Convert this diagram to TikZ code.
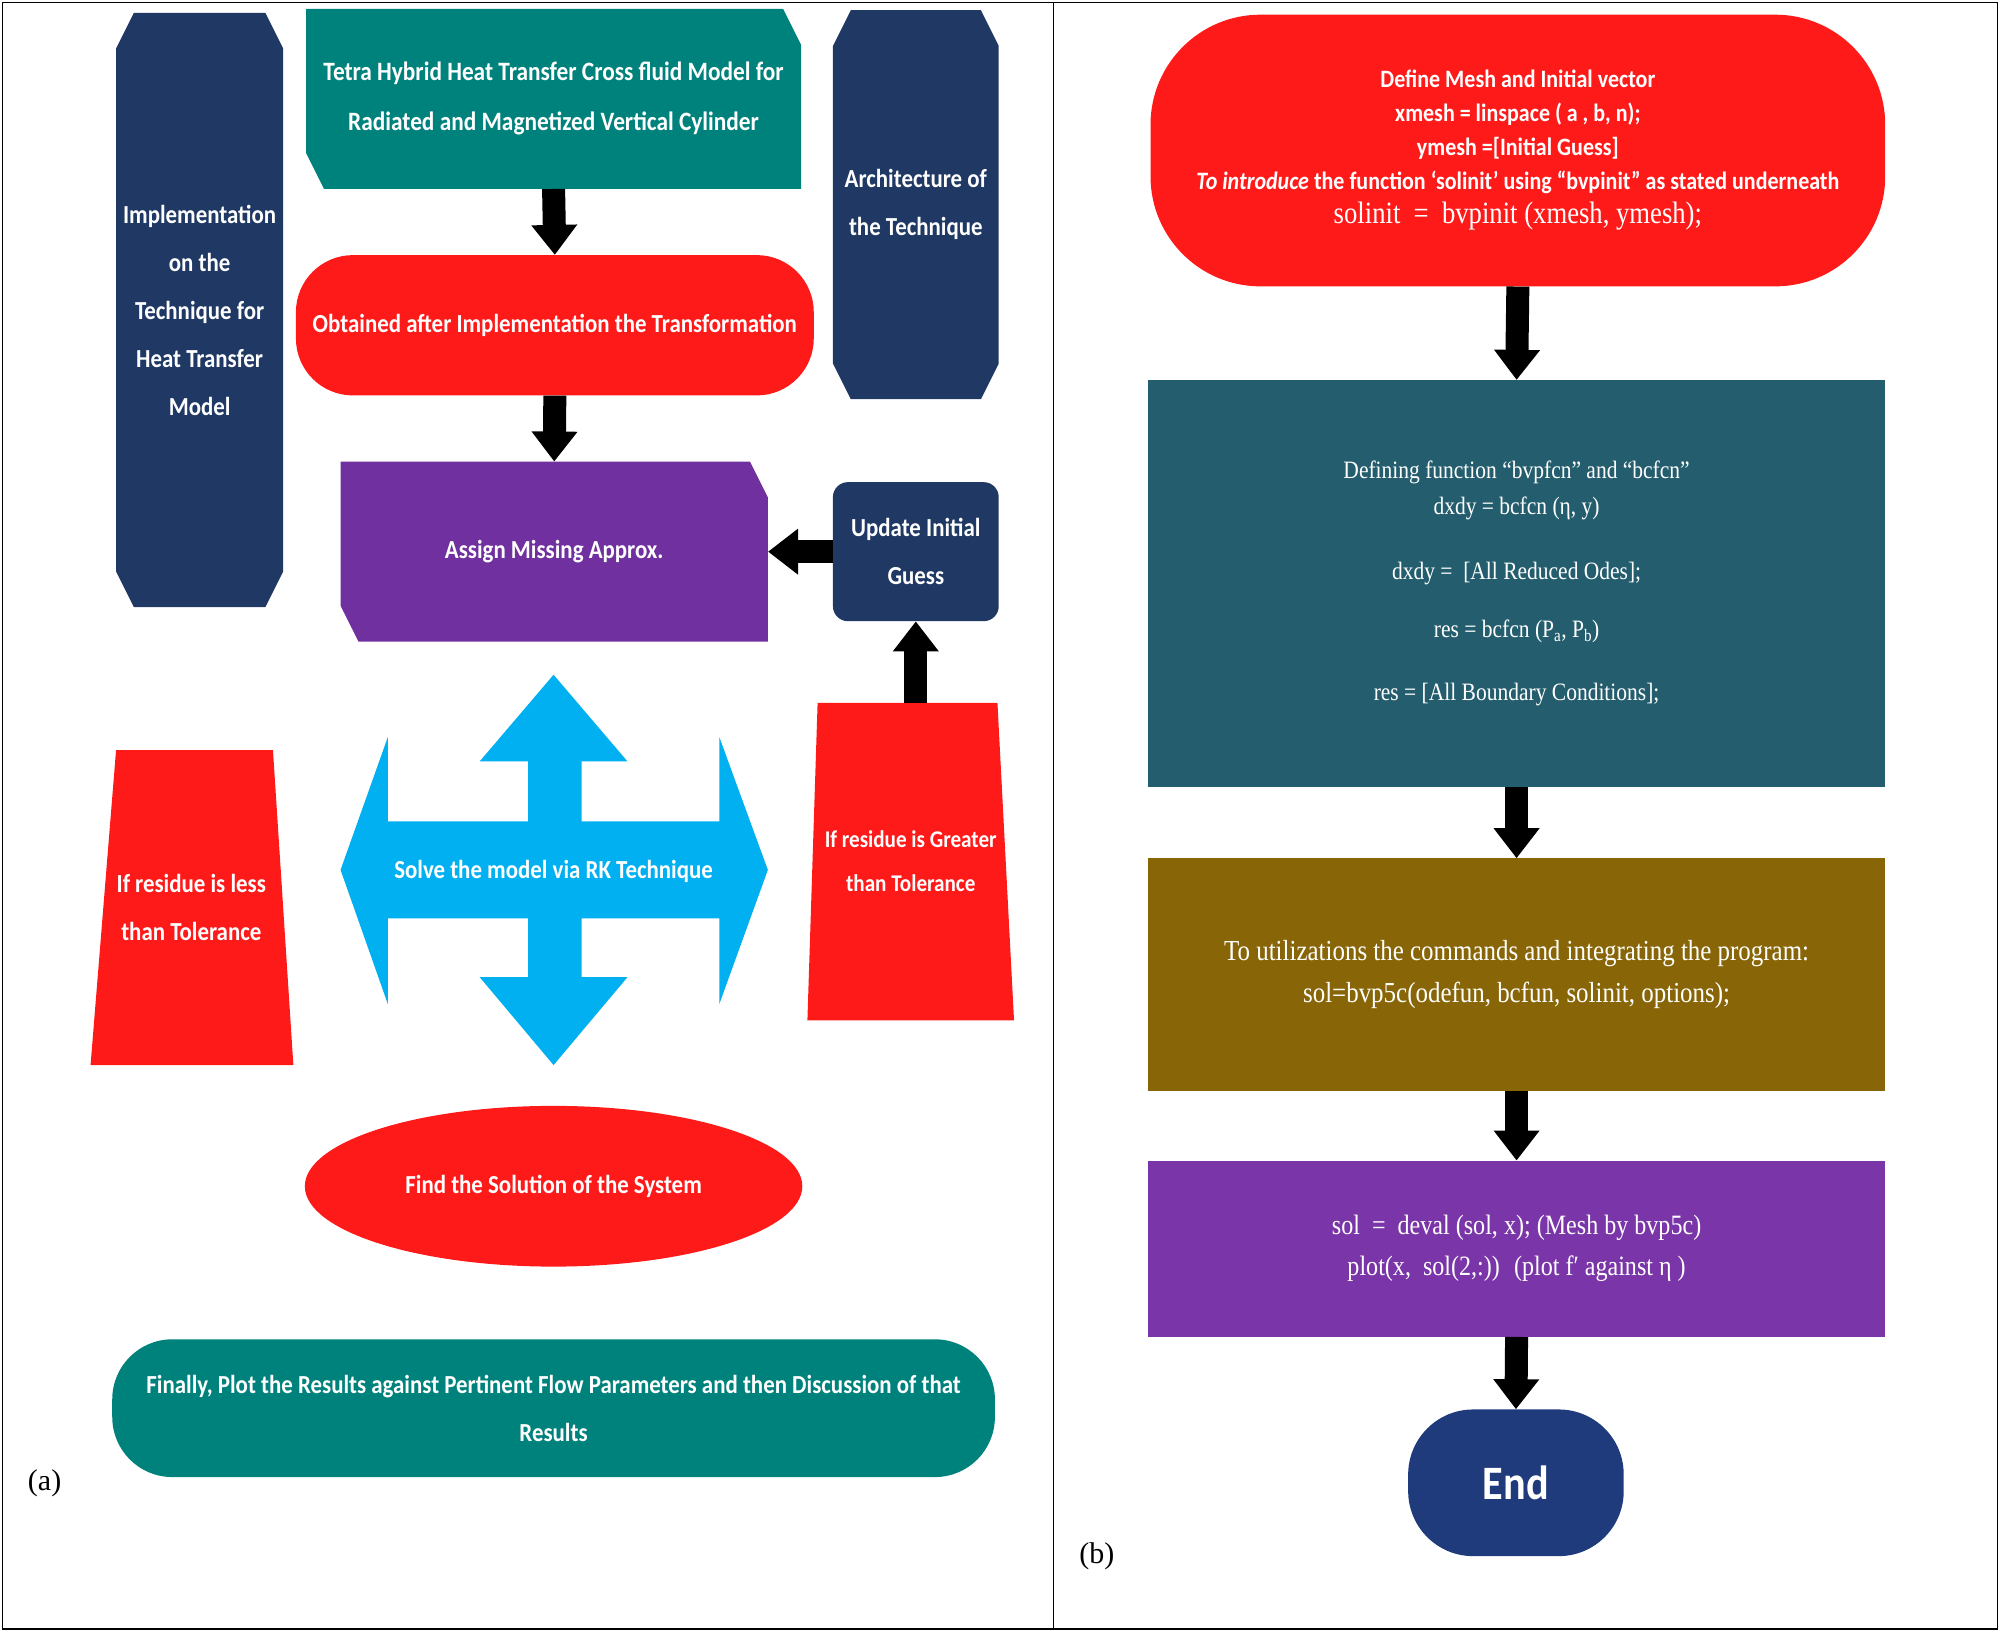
\documentclass[tikz,border=0pt]{standalone}
\usepackage{fontspec}
\setmainfont{Carlito}[FakeStretch=0.88]
\newfontfamily\rmf{Liberation Serif}[FakeStretch=0.86]
\newfontfamily\lbl{Liberation Serif}
\usetikzlibrary{arrows.meta,shapes.geometric}
\definecolor{navy}{HTML}{1F3864}
\definecolor{tealA}{HTML}{00827C}
\definecolor{redA}{HTML}{FF1A1A}
\definecolor{purA}{HTML}{7030A0}
\definecolor{cyanA}{HTML}{00B0F0}
\definecolor{tealB}{HTML}{245E6E}
\definecolor{oliveA}{HTML}{886608}
\definecolor{purB}{HTML}{7A36A8}
\definecolor{navyB}{HTML}{1F3B7C}
\newcommand\uu{1.2755pt}
\begin{document}
\begin{tikzpicture}[x=1.2755pt,y=-1.2755pt,
  txt/.style={text=white,font=\bfseries\fontsize{26pt}{48pt}\selectfont,align=center,inner sep=0pt},
  blk/.style={black,line width=23pt,-{Triangle[length=30pt 0,width=44pt 0]}},
  stxt/.style={text=white,font=\rmf\fontsize{25pt}{36pt}\selectfont,align=center}]
\useasboundingbox (0,0) rectangle (1568,1278.7);
\draw[line width=1.5pt] (2,2) rectangle (1566,1277);
\draw[line width=1.5pt] (826,2) -- (826,1277);
% ---- left panel shapes
\fill[navy] (105,10)--(208,10)--(222,38)--(222,448)--(208,476)--(105,476)--(91,448)--(91,38)--cycle;
\fill[navy] (667,8)--(769,8)--(783,36)--(783,285)--(769,313)--(667,313)--(653,285)--(653,36)--cycle;
\fill[tealA] (240,7)--(614,7)--(628,35)--(628,148)--(254,148)--(240,120)--cycle;
\fill[purA] (267,362)--(588,362)--(602,390)--(602,503)--(281,503)--(267,475)--cycle;
\fill[redA] (641,551)--(782,551)--(795,800)--(633,800)--cycle;
\fill[redA] (91,588)--(214,588)--(230,835)--(71,835)--cycle;
\fill[cyanA] (434,529)--(492,597)--(456,597)--(456,644)--(564,644)--(564,578)--(602,682)--(564,787)--(564,720)--(456,720)--(456,766)--(492,766)--(434,835)--(376,766)--(414,766)--(414,720)--(304,720)--(304,787)--(267,682)--(304,578)--(304,644)--(414,644)--(414,597)--(376,597)--cycle;
% ---- left panel nodes
\node[txt] (impl) at (156.5,243) {Implementation\\on the\\Technique for\\Heat Transfer\\Model};
\node[txt] (arch) at (718,160.5) {Architecture of\\the Technique};
\node[txt,minimum width=388*\uu,minimum height=141*\uu,font=\bfseries\fontsize{26.5pt}{50pt}\selectfont] (tetra) at (434,77.5) {Tetra Hybrid Heat Transfer Cross fluid Model for\\Radiated and Magnetized Vertical Cylinder};
\node[txt,fill=redA,rounded corners=57pt,minimum width=406*\uu,minimum height=110*\uu] (obt) at (435,255) {Obtained after Implementation the Transformation};
\node[txt,minimum width=335*\uu,minimum height=141*\uu] (assign) at (434.5,432.5) {Assign Missing Approx.};
\node[txt,fill=navy,rounded corners=15pt,minimum width=130*\uu,minimum height=109*\uu] (upd) at (718,432.5) {Update Initial\\Guess};
\node[txt,minimum width=141*\uu,minimum height=249*\uu,font=\bfseries\fontsize{24pt}{44pt}\selectfont] (trR) at (714,675.5) {If residue is Greater\\than Tolerance};
\node[txt,minimum width=123*\uu,minimum height=247*\uu] (trL) at (150,711.5) {If residue is less\\than Tolerance};
\node[txt] (solve) at (434,683) {Solve the model via RK Technique};
\node[txt,fill=redA,ellipse,minimum width=390*\uu,minimum height=126*\uu] (find) at (434,930) {Find the Solution of the System};
\node[txt,fill=tealA,rounded corners=60pt,minimum width=692*\uu,minimum height=108*\uu] (final) at (434,1104) {Finally, Plot the Results against Pertinent Flow Parameters and then Discussion of that\\Results};
\node[font=\lbl\fontsize{30pt}{36pt}\selectfont] (la) at (35,1163) {(a)};
% ---- left connectors
\draw[blk] (tetra.south) -- (obt.north);
\draw[blk] (obt.south) -- (assign.north);
\draw[blk] (upd.west) -- (assign.east);
\draw[blk] (upd.south |- trR.north) -- (upd.south);
% ---- right panel
\node[txt,fill=redA,rounded corners=110pt,minimum width=576*\uu,minimum height=213*\uu,font=\bfseries\fontsize{25pt}{34pt}\selectfont] (r1) at (1190,118)
  {Define Mesh and Initial vector\\xmesh = linspace ( a , b, n);\\ymesh =[Initial Guess]\\\textit{To introduce} the function ‘solinit’ using “bvpinit” as stated underneath\\{\rmf\mdseries\fontsize{31pt}{34pt}\selectfont solinit \ = \ bvpinit (xmesh, ymesh);}};
\node[stxt,fill=tealB,minimum width=578*\uu,minimum height=319*\uu] (r2) at (1189,457.5)
  {Defining function “bvpfcn” and “bcfcn”\\dxdy = bcfcn (η, y)\\[29pt]dxdy = \ [All Reduced Odes];\\[22pt]res = bcfcn (P\textsubscript{a}, P\textsubscript{b})\\[27pt]res = [All Boundary Conditions];};
\node[stxt,fill=oliveA,minimum width=578*\uu,minimum height=182*\uu,font=\rmf\fontsize{29pt}{42pt}\selectfont] (r3) at (1189,764)
  {To utilizations the commands and integrating the program:\\sol=bvp5c(odefun, bcfun, solinit, options);};
\node[stxt,fill=purB,minimum width=578*\uu,minimum height=138*\uu,font=\rmf\fontsize{28pt}{41pt}\selectfont] (r4) at (1189,979)
  {sol \ = \ deval (sol, x); (Mesh by bvp5c)\\plot(x, \ sol(2,:)) \ (plot f′ against η )};
\node[txt,fill=navyB,rounded corners=65pt,minimum width=169*\uu,minimum height=115*\uu,font=\bfseries\fontsize{48pt}{56pt}\selectfont] (end) at (1188.5,1162.5) {End};
\node[font=\lbl\fontsize{30pt}{36pt}\selectfont] (lb) at (860,1220) {(b)};
\draw[blk] (r1.south) -- (r2.north);
\draw[blk] (r2.south) -- (r3.north);
\draw[blk] (r3.south) -- (r4.north);
\draw[blk] (r4.south) -- (end.north);
\end{tikzpicture}
\end{document}
